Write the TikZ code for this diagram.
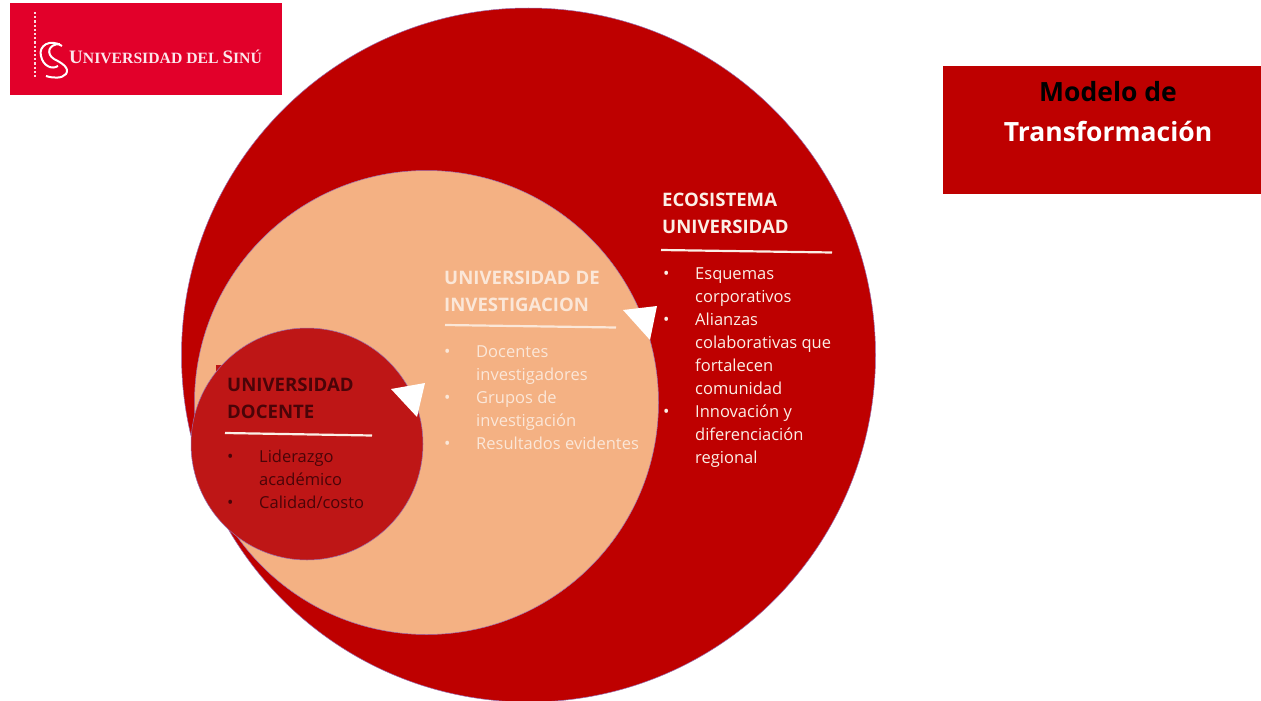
\documentclass[tikz,border=0pt]{standalone}
\usepackage{fontspec}
\setmainfont{Open Sans}
\newfontfamily\logofont{Liberation Serif}
\definecolor{dred}{HTML}{BE0000}
\definecolor{peach}{HTML}{F4B183}
\definecolor{inner}{HTML}{BE1616}
\definecolor{logored}{HTML}{E2002A}
\definecolor{ringline}{HTML}{9A6FB0}
\definecolor{softwhite}{HTML}{FBEFE6}
\definecolor{peachtext}{HTML}{FBE7D8}
\definecolor{darktext}{HTML}{4A0408}
\newcommand{\bul}{\makebox[32pt][l]{\hspace*{0pt}{\fontsize{17}{23}\selectfont•}}}
\newcommand{\cont}{\hspace*{32pt}}
\tikzset{
  x=1pt,y=-1pt,
  ring/.style={draw=ringline,line width=0.5pt},
  head/.style={anchor=north west,inner sep=0pt,align=left,font=\fontsize{18.6}{26.5}\selectfont\bfseries},
  body/.style={anchor=north west,inner sep=0pt,align=left,font=\fontsize{16.5}{23}\selectfont},
  rulel/.style={draw=softwhite,line width=2.2pt},
  marker/.style={fill=white,draw=none},
  titlet/.style={inner sep=0pt,font=\fontsize{26.5}{34}\selectfont\bfseries}
}
\begin{document}
\begin{tikzpicture}
\useasboundingbox (0,0) rectangle (1261,701);
\begin{scope}
\clip (0,0) rectangle (1261,701);
\fill[white] (0,0) rectangle (1261,701);
\draw[ring,fill=dred] (528.5,355) circle[radius=347];
\end{scope}
\draw[ring,fill=peach] (426.5,402.5) circle[radius=232];
\fill[inner] (216,365) rectangle (224,378);
\draw[ring,fill=inner] (307,444) circle[radius=116];
% logo
\fill[logored] (10,3) rectangle (282,95);
\draw[white!85!logored,line width=2.2pt,dotted] (35,12) -- (35,78);
\draw[white,line width=2pt] (62,46) .. controls (50,38) and (38,46) .. (41,56) .. controls (43,66) and (52,70) .. (58,66);
\draw[white,line width=2pt] (60,44) .. controls (48,44) and (46,54) .. (54,59) .. controls (62,63) and (70,68) .. (66,74) .. controls (62,79) and (52,78) .. (46,76);
\node[anchor=west,inner sep=0pt,text=white!90!logored] (logo) at (69,57) {\logofont\bfseries\fontsize{19}{20}\selectfont U\fontsize{15.7}{20}\selectfont NIVERSIDAD DEL \fontsize{19}{20}\selectfont S\fontsize{15.7}{20}\selectfont IN\'U};
% title
\fill[dred] (943,66) rectangle (1261,194);
\node[titlet,text=black] (t1) at (1108,92) {Modelo de};
\node[titlet,text=white] (t2) at (1108,131) {Transformación};
% ecosistema
\node[head,text=softwhite] (ecoh) at (662,193) {ECOSISTEMA\\UNIVERSIDAD};
\draw[rulel] (661,250) -- (832,252.5);
\node[body,text=softwhite] (ecob) at (663,268) {\bul Esquemas\\\cont corporativos\\\bul Alianzas\\\cont colaborativas que\\\cont fortalecen\\\cont comunidad\\\bul Innovación y\\\cont diferenciación\\\cont regional};
% investigacion
\node[head,text=peachtext] (invh) at (444,271) {UNIVERSIDAD DE\\INVESTIGACION};
\draw[rulel,draw=peachtext] (445,325) -- (616,327.5);
\node[body,text=peachtext] (invb) at (444,346) {\bul Docentes\\\cont investigadores\\\bul Grupos de\\\cont investigación\\\bul Resultados evidentes};
% docente
\node[head,text=darktext] (doch) at (227,378) {UNIVERSIDAD\\DOCENTE};
\draw[rulel] (225,433) -- (372,435.5);
\node[body,text=darktext] (docb) at (227,450) {\bul Liderazgo\\\cont académico\\\bul Calidad/costo};
% markers
\fill[marker] (391,389) -- (425,383) -- (417,417) -- cycle;
\fill[marker] (623,310) -- (657,306) -- (650,340) -- cycle;
\end{tikzpicture}
\end{document}
